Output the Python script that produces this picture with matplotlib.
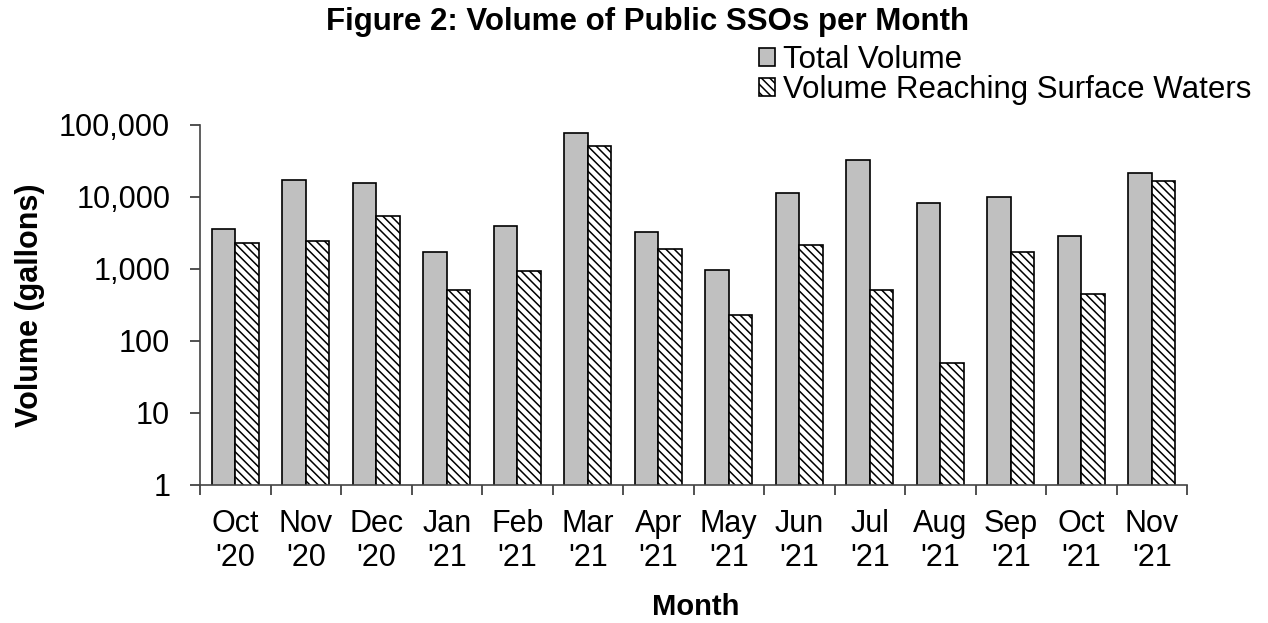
import matplotlib
matplotlib.use("Agg")
import matplotlib.pyplot as plt
import numpy as np
from matplotlib.ticker import FixedLocator, FuncFormatter, NullLocator

plt.rcParams['font.family'] = ['Liberation Sans', 'DejaVu Sans']
plt.rcParams['hatch.linewidth'] = 1.1

months = ["Oct\n'20", "Nov\n'20", "Dec\n'20", "Jan\n'21", "Feb\n'21", "Mar\n'21", "Apr\n'21",
          "May\n'21", "Jun\n'21", "Jul\n'21", "Aug\n'21", "Sep\n'21", "Oct\n'21", "Nov\n'21"]
total_volume = [3600, 17000, 15800, 1720, 3950, 78000, 3230,
                970, 11500, 32700, 8260, 9900, 2900, 21800]
surface_volume = [2300, 2450, 5400, 510, 940, 51600, 1900,
                  232, 2130, 506, 50, 1700, 454, 16900]
y_ticks = [1, 10, 100, 1000, 10000, 100000]

W, H = 1268, 623
fig = plt.figure(figsize=(W / 100, H / 100), dpi=100)
ax = fig.add_axes([200 / W, 1 - 485 / H, 987 / W, 360 / H])

x = np.arange(len(months))
w = 0.333
ax.bar(x - w / 2, total_volume, width=w, color='#C0C0C0', edgecolor='black',
       linewidth=1.2, label='Total Volume')
ax.bar(x + w / 2, surface_volume, width=w, color='white', edgecolor='black',
       linewidth=1.2, hatch='\\\\\\\\', label='Volume Reaching Surface Waters')

ax.set_yscale('log')
ax.set_ylim(1, 100000)
ax.set_xlim(-0.5, len(months) - 0.5)
ax.yaxis.set_major_locator(FixedLocator(y_ticks))
ax.yaxis.set_minor_locator(NullLocator())
ax.yaxis.set_major_formatter(FuncFormatter(lambda v, p: f"{int(round(v)):,}"))

ax.set_xticks(x)
ax.set_xticklabels(months, fontsize=22, linespacing=1.2)
ax.set_xticks(np.arange(len(months) + 1) - 0.5, minor=True)
ax.tick_params(axis='x', which='major', length=0, pad=17)
ax.tick_params(axis='x', which='minor', length=7.5, width=1.2, direction='out', color='#333333')
ax.tick_params(axis='y', which='major', length=7.5, width=1.2, direction='out',
               labelsize=22, pad=14, color='#333333')

for side in ('top', 'right'):
    ax.spines[side].set_visible(False)
for side in ('left', 'bottom'):
    ax.spines[side].set_color('#444444')
    ax.spines[side].set_linewidth(1.2)

ax.set_ylabel('Volume (gallons)', fontsize=22, fontweight='bold', va='center')
ax.yaxis.set_label_coords((30 - 200) / 987, 0.5)
ax.set_xlabel('Month', fontsize=21, fontweight='bold', va='baseline')
ax.xaxis.set_label_coords((696 - 200) / 987, (485 - 615) / 360)

fig.text(648 / W, 1 - 30 / H, 'Figure 2: Volume of Public SSOs per Month',
         ha='center', va='baseline', fontsize=22.5, fontweight='bold')

leg = ax.legend(loc='upper left', bbox_to_anchor=(759 / W, 1 - 45 / H),
                bbox_transform=fig.transFigure, frameon=False, fontsize=22.5,
                handlelength=0.51, handleheight=0.51, handletextpad=0.26,
                labelspacing=0.0, borderaxespad=0, borderpad=0)

fig.savefig('out.png', dpi=100)
